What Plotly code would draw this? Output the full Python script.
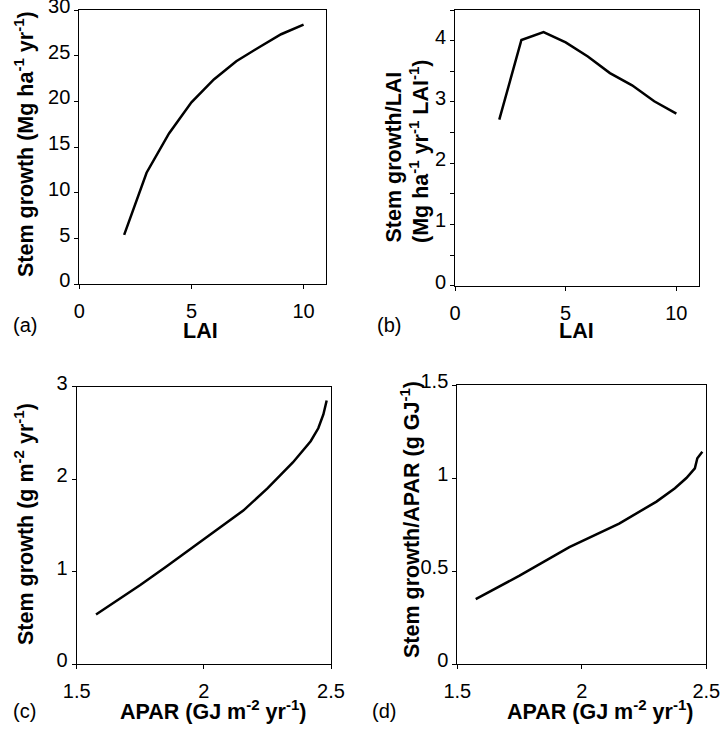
import plotly.graph_objects as go

# ---- data ----
lai = [2, 3, 4, 5, 6, 7, 8, 9, 10]
stem_growth_lai = [5.4, 12.2, 16.5, 19.9, 22.4, 24.4, 25.9, 27.35, 28.4]
stem_growth_per_lai = [2.71, 4.01, 4.14, 3.97, 3.74, 3.47, 3.27, 3.01, 2.81]

apar_c = [1.576, 1.65, 1.75, 1.85, 1.95, 2.05, 2.155, 2.25, 2.35, 2.42, 2.45, 2.47, 2.483]
stem_growth_apar = [0.535, 0.67, 0.855, 1.05, 1.25, 1.45, 1.66, 1.90, 2.18, 2.41, 2.55, 2.70, 2.85]

apar_d = [1.574, 1.75, 1.95, 2.15, 2.30, 2.374, 2.42, 2.454, 2.464, 2.484]
stem_growth_per_apar = [0.349, 0.475, 0.628, 0.755, 0.873, 0.945, 1.00, 1.052, 1.106, 1.141]

panel_labels = ["(a)", "(b)", "(c)", "(d)"]
x_titles = ["LAI", "LAI", "APAR (GJ m<sup>-2</sup> yr<sup>-1</sup>)", "APAR (GJ m<sup>-2</sup> yr<sup>-1</sup>)"]
y_titles = ["Stem growth (Mg ha<sup>-1</sup> yr<sup>-1</sup>)",
            "Stem growth/LAI",
            "(Mg ha<sup>-1</sup> yr<sup>-1</sup> LAI<sup>-1</sup>)",
            "Stem growth (g m<sup>-2</sup> yr<sup>-1</sup>)",
            "Stem growth/APAR (g GJ<sup>-1</sup>)"]

FONT = "Liberation Sans, Arial, Helvetica, sans-serif"
W, H = 728, 731
TICK_SIZE = 20
TITLE_SIZE = 21.5


def dom_x(a, b):
    return [a / W, b / W]


def dom_y(top, bottom):
    return [1 - bottom / H, 1 - top / H]


line = dict(color="black", width=2.5)

fig = go.Figure()
fig.add_trace(go.Scatter(x=lai, y=stem_growth_lai, mode="lines", line=line, xaxis="x", yaxis="y"))
fig.add_trace(go.Scatter(x=lai, y=stem_growth_per_lai, mode="lines", line=line, xaxis="x2", yaxis="y2"))
fig.add_trace(go.Scatter(x=apar_c, y=stem_growth_apar, mode="lines", line=line, xaxis="x3", yaxis="y3"))
fig.add_trace(go.Scatter(x=apar_d, y=stem_growth_per_apar, mode="lines", line=line, xaxis="x4", yaxis="y4"))

common = dict(
    showline=True, linecolor="black", linewidth=1, mirror=True,
    ticks="outside", ticklen=4, tickcolor="black", tickwidth=1,
    showgrid=False, zeroline=False, automargin=False,
    ticklabeloverflow="allow",
    tickfont=dict(family=FONT, size=TICK_SIZE, color="black"),
)


def xax(domain, anchor, rng, dtick, tick0=None):
    d = dict(common)
    d.update(domain=domain, anchor=anchor, range=rng, dtick=dtick, ticklabelstandoff=5)
    if tick0 is not None:
        d["tick0"] = tick0
    return d


def yax(domain, anchor, rng, dtick, minor=None):
    d = dict(common)
    d.update(domain=domain, anchor=anchor, range=rng, dtick=dtick, ticklabelshift=-4)
    if minor is not None:
        d["minor"] = dict(dtick=minor, ticks="outside", ticklen=4, tickcolor="black", showgrid=False)
    return d


fig.update_layout(
    template="none",
    width=W, height=H,
    margin=dict(l=0, r=0, t=0, b=0, autoexpand=False),
    paper_bgcolor="white", plot_bgcolor="white",
    showlegend=False,
    font=dict(family=FONT, color="black"),
    xaxis=xax(dom_x(79.3, 326), "y", [0, 11], 5),
    yaxis=yax(dom_y(10, 284.3), "x", [0, 30], 5),
    xaxis2=xax(dom_x(455, 698.5), "y2", [0, 11], 5),
    yaxis2=yax(dom_y(10, 285.7), "x2", [0, 4.5], 1, minor=0.5),
    xaxis3=xax(dom_x(76.7, 331), "y3", [1.5, 2.5], 0.5, tick0=1.5),
    yaxis3=yax(dom_y(386.7, 664), "x3", [0, 3], 1),
    xaxis4=xax(dom_x(457.3, 706.3), "y4", [1.5, 2.5], 0.5, tick0=1.5),
    yaxis4=yax(dom_y(385, 664), "x4", [0, 1.5], 0.5),
)


def annot(text, px, py, size, bold=False, angle=0, xanchor="center", yanchor="middle"):
    fig.add_annotation(
        text=("<b>" + text + "</b>") if bold else text,
        x=px / W, y=1 - py / H, xref="paper", yref="paper",
        xanchor=xanchor, yanchor=yanchor, showarrow=False, textangle=angle,
        font=dict(family=FONT, size=size, color="black"),
    )


# panel labels
label_pos = [(25, 325), (389, 325), (24, 711), (384, 711)]
for txt, (px, py) in zip(panel_labels, label_pos):
    annot(txt, px, py, TICK_SIZE)

# x-axis titles
x_title_pos = [(200, 331), (576, 331), (213, 710), (600, 710)]
for txt, (px, py) in zip(x_titles, x_title_pos):
    annot(txt, px, py, TITLE_SIZE, bold=True)

# y-axis titles
annot(y_titles[0], 24, 144, TITLE_SIZE, bold=True, angle=-90)
annot(y_titles[1], 393, 245, TITLE_SIZE, bold=True, angle=-90, yanchor="bottom")
annot(y_titles[2], 419, 245, TITLE_SIZE, bold=True, angle=-90, yanchor="bottom")
annot(y_titles[3], 24, 524, TITLE_SIZE, bold=True, angle=-90)
annot(y_titles[4], 410, 520, TITLE_SIZE, bold=True, angle=-90)

fig.write_html("out.html", config={"displayModeBar": False},
               post_script="document.body.style.margin='0';")
